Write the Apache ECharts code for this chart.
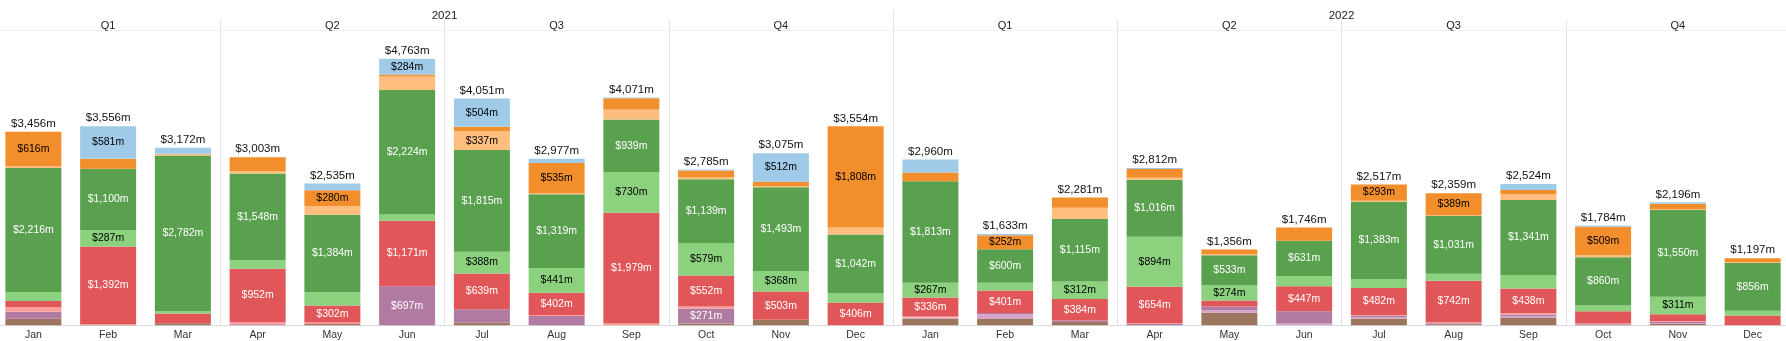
<!DOCTYPE html>
<html>
<head>
<meta charset="utf-8">
<script src="https://cdn.jsdelivr.net/npm/echarts@6/dist/echarts.min.js"></script>
<style>
  html, body { margin: 0; padding: 0; background: #fff; }
  #chart { width: 1786px; height: 341px; }
</style>
</head>
<body>
<div id="chart"></div>
<script>
// Period labels
const years = ['2021', '2022'];
const quarters = ['Q1', 'Q2', 'Q3', 'Q4'];
const monthNames = ['Jan', 'Feb', 'Mar', 'Apr', 'May', 'Jun', 'Jul', 'Aug', 'Sep', 'Oct', 'Nov', 'Dec'];

// Monthly values in $m, 2021 Jan..Dec then 2022 Jan..Dec (stack order bottom to top)
const brown       = [119, 5, 36, 0, 22, 0, 48, 0, 0, 30, 100, 0,     115, 113, 60, 0, 225, 0, 120, 20, 130, 0, 24, 0];
const lightPurple = [0, 0, 0, 0, 0, 0, 0, 0, 0, 0, 0, 0,             24, 83, 0, 0, 50, 30, 24, 0, 30, 0, 18, 0];
const purple      = [125, 0, 0, 18, 0, 697, 240, 167, 0, 271, 0, 0,  0, 24, 26, 24, 60, 222, 30, 18, 35, 20, 18, 0];
const pink        = [83, 12, 0, 42, 30, 0, 0, 12, 30, 36, 0, 0,      20, 0, 0, 12, 0, 0, 12, 18, 25, 10, 18, 0];
const red         = [107, 1392, 173, 952, 302, 1171, 639, 402, 1979, 552, 503, 406,
                     336, 401, 384, 654, 110, 447, 482, 742, 438, 223, 119, 174];
const lightGreen  = [160, 287, 42, 150, 238, 113, 388, 441, 730, 579, 368, 173,
                     267, 137, 312, 894, 274, 180, 155, 125, 240, 102, 311, 84];
const green       = [2216, 1100, 2782, 1548, 1384, 2224, 1815, 1319, 939, 1139, 1493, 1042,
                     1813, 600, 1115, 1016, 533, 631, 1383, 1031, 1341, 860, 1550, 856];
const lightOrange = [30, 0, 30, 48, 155, 238, 337, 24, 179, 36, 20, 125,
                     0, 0, 205, 36, 20, 0, 18, 16, 105, 36, 18, 11];
const orange      = [616, 179, 0, 245, 280, 36, 80, 535, 197, 124, 79, 1808,
                     155, 252, 179, 158, 84, 236, 293, 389, 75, 509, 96, 72];
const lightBlue   = [0, 581, 109, 0, 124, 284, 504, 77, 17, 18, 512, 0,
                     230, 23, 0, 18, 0, 0, 0, 0, 105, 24, 24, 0];
const totals      = [3456, 3556, 3172, 3003, 2535, 4763, 4051, 2977, 4071, 2785, 3075, 3554,
                     2960, 1633, 2281, 2812, 1356, 1746, 2517, 2359, 2524, 1784, 2196, 1197];

const monthKeys = years.flatMap(y => monthNames.map(m => y + ' ' + m));
const quarterKeys = years.flatMap(y => quarters.map(q => y + ' ' + q));

const FONT = '"Liberation Sans", Arial, sans-serif';
const money = v => '$' + Number(v).toLocaleString('en-US') + 'm';
const BAR_W = 56;

const layers = [
  { name: 'brown',        data: brown,       color: '#9d7660', text: '#fff' },
  { name: 'light purple', data: lightPurple, color: '#d4a6c8', text: '#000' },
  { name: 'purple',       data: purple,      color: '#b07aa1', text: '#fff' },
  { name: 'pink',         data: pink,        color: '#ff9d9a', text: '#000' },
  { name: 'red',          data: red,         color: '#e15759', text: '#fff' },
  { name: 'light green',  data: lightGreen,  color: '#8cd17d', text: '#000' },
  { name: 'green',        data: green,       color: '#59a14f', text: '#fff' },
  { name: 'light orange', data: lightOrange, color: '#ffbe7d', text: '#000' },
  { name: 'orange',       data: orange,      color: '#f28e2b', text: '#000' },
  { name: 'light blue',   data: lightBlue,   color: '#a0cbe8', text: '#000' }
];

const series = layers.map(l => ({
  name: l.name,
  type: 'bar',
  stack: 'total',
  barWidth: BAR_W,
  data: l.data,
  itemStyle: { color: l.color },
  label: {
    show: true,
    position: 'inside',
    fontFamily: FONT,
    fontSize: 10.5,
    color: l.text,
    formatter: p => (p.value >= 250 ? money(p.value) : '')
  },
  silent: true
}));

// Invisible overlay carrying the monthly total above each stack
series.push({
  name: 'total',
  type: 'bar',
  barWidth: BAR_W,
  barGap: '-100%',
  data: totals,
  itemStyle: { color: 'rgba(0,0,0,0)' },
  label: {
    show: true,
    position: 'top',
    distance: 2,
    fontFamily: FONT,
    fontSize: 11.5,
    color: '#111',
    formatter: p => money(p.value)
  },
  silent: true,
  z: 1
});

const chart = echarts.init(document.getElementById('chart'), null, { renderer: 'canvas' });
chart.setOption({
  animation: false,
  backgroundColor: '#fff',
  grid: {
    left: -4, width: 1794, top: 30, bottom: 15.7,
    containLabel: false,
    outerBoundsMode: 'none'
  },
  xAxis: [
    {
      type: 'category',
      data: monthKeys,
      position: 'bottom',
      axisTick: { show: false },
      axisLine: { show: true, lineStyle: { color: '#d6d6d6', type: 'dotted', width: 1 } },
      axisLabel: {
        formatter: v => v.split(' ')[1],
        margin: 4,
        fontFamily: FONT,
        fontSize: 10.5,
        color: '#333',
        interval: 0
      },
      splitLine: { show: false }
    },
    {
      type: 'category',
      data: quarterKeys,
      position: 'top',
      axisLine: { show: true, lineStyle: { color: '#f0f0f0', width: 1 } },
      axisTick: { show: true, interval: 0, length: 10, lineStyle: { color: '#e3e3e3' } },
      splitLine: { show: true, interval: 0, lineStyle: { color: '#e3e3e3', width: 1 } },
      axisLabel: {
        formatter: v => v.split(' ')[1],
        verticalAlign: 'middle',
        margin: 4.5,
        fontFamily: FONT,
        fontSize: 11,
        color: '#222',
        interval: 0
      }
    },
    {
      type: 'category',
      data: years,
      position: 'top',
      offset: 10,
      axisLine: { show: false },
      axisTick: { show: true, interval: 0, length: 10, lineStyle: { color: '#e3e3e3' } },
      splitLine: { show: false },
      axisLabel: {
        verticalAlign: 'middle',
        margin: 4.5,
        fontFamily: FONT,
        fontSize: 11.5,
        color: '#222',
        interval: 0
      }
    }
  ],
  yAxis: {
    type: 'value',
    min: 0,
    max: 5275,
    show: false,
    splitLine: { show: false }
  },
  series: series
});
</script>
</body>
</html>
